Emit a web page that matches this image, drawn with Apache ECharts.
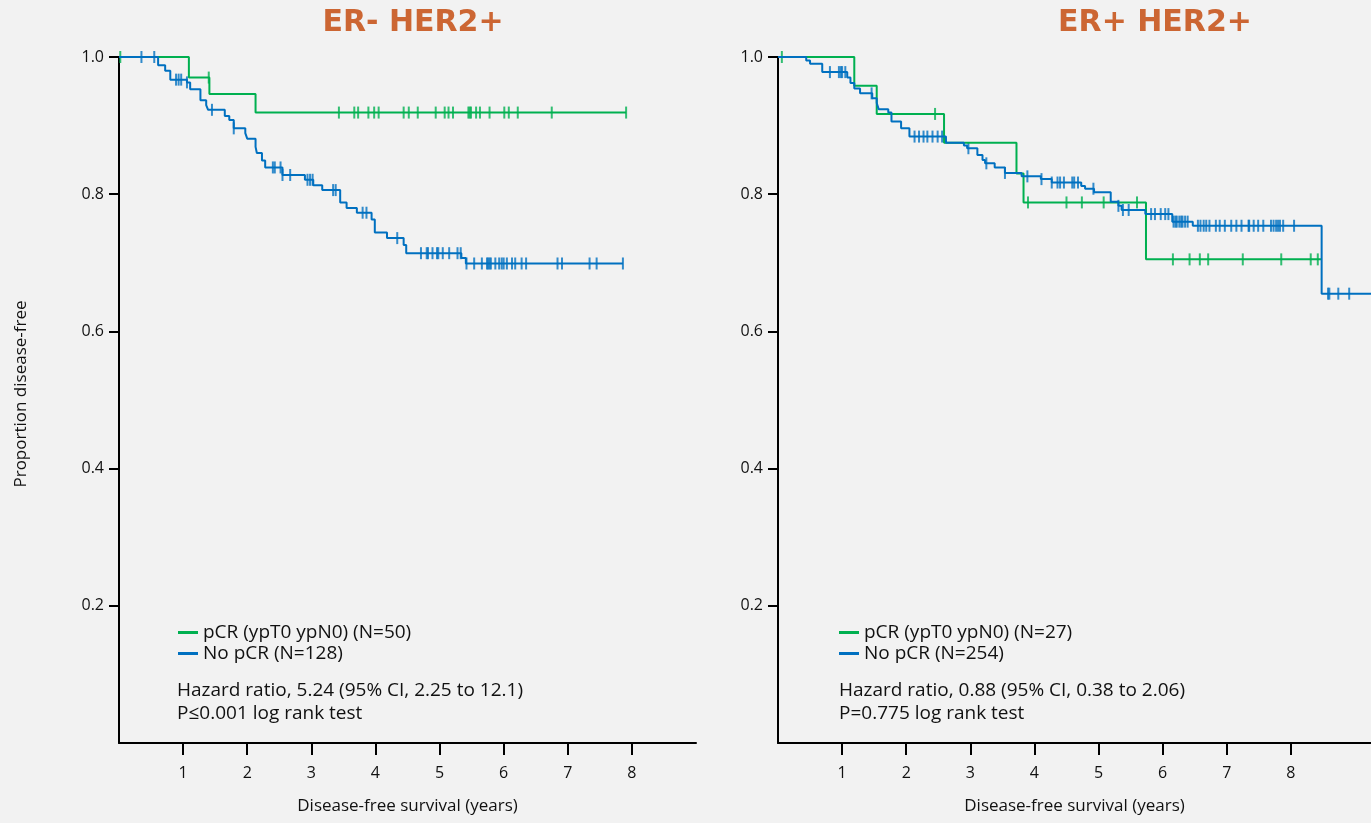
<!DOCTYPE html>
<html>
<head>
<meta charset="utf-8">
<title>Disease-free survival by pCR status</title>
<script src="https://cdn.jsdelivr.net/npm/echarts@6/dist/echarts.min.js"></script>
<style>
  html, body { margin: 0; padding: 0; background: #f2f2f2; }
  #chart { width: 1371px; height: 823px; }
</style>
</head>
<body>
<div id="chart"></div>
<script>
// ---- Kaplan-Meier data (years, proportion disease-free) ----
// ER- HER2+, pCR (ypT0 ypN0), N=50
const erNegPcrTime = [0, 1.09, 1.41, 2.13, 7.91];
const erNegPcrSurv = [1.0, 0.970, 0.946, 0.919, 0.919];
const erNegPcrCensor = [0.02, 1.40, 3.43, 3.67, 3.73, 3.89, 3.98, 4.05, 4.44, 4.52, 4.66, 4.94, 5.08, 5.14,
  5.21, 5.45, 5.47, 5.49, 5.57, 5.63, 5.78, 6.01, 6.08, 6.22, 6.75, 7.91];

// ER- HER2+, No pCR, N=128
const erNegNoPcrTime = [0, 0.61, 0.72, 0.80, 1.06, 1.11, 1.27, 1.36, 1.39, 1.65, 1.72, 1.79, 1.97, 2.00, 2.13,
  2.15, 2.23, 2.28, 2.55, 2.90, 3.03, 3.17, 3.45, 3.55, 3.71, 3.94, 3.99, 4.18, 4.44, 4.48, 5.34, 5.41, 7.86];
const erNegNoPcrSurv = [1.0, 0.988, 0.980, 0.967, 0.963, 0.953, 0.937, 0.930, 0.923, 0.914, 0.908, 0.896, 0.889,
  0.881, 0.869, 0.860, 0.849, 0.839, 0.828, 0.821, 0.813, 0.806, 0.788, 0.780, 0.773, 0.763, 0.744, 0.736,
  0.726, 0.714, 0.707, 0.699, 0.699];
const erNegNoPcrCensor = [0.35, 0.55, 0.89, 0.93, 0.97, 1.06, 1.45, 1.79, 2.40, 2.43, 2.52, 2.55, 2.67, 2.94,
  2.98, 3.02, 3.34, 3.38, 3.80, 3.86, 4.34, 4.71, 4.80, 4.82, 4.89, 4.96, 4.98, 5.05, 5.15, 5.28, 5.33, 5.42,
  5.54, 5.66, 5.74, 5.76, 5.78, 5.80, 5.87, 5.93, 5.97, 6.00, 6.05, 6.13, 6.18, 6.28, 6.35, 6.84, 6.91, 7.34,
  7.45, 7.86];

// ER+ HER2+, pCR (ypT0 ypN0), N=27
const erPosPcrTime = [0, 1.19, 1.54, 2.59, 3.72, 3.83, 5.74, 8.47];
const erPosPcrSurv = [1.0, 0.958, 0.917, 0.875, 0.830, 0.788, 0.705, 0.705];
const erPosPcrCensor = [0.06, 2.45, 3.90, 4.50, 4.74, 5.08, 5.60, 6.16, 6.42, 6.58, 6.71, 7.25, 7.85, 8.31, 8.42];

// ER+ HER2+, No pCR, N=254
const erPosNoPcrTime = [0, 0.44, 0.50, 0.69, 1.08, 1.13, 1.19, 1.28, 1.47, 1.54, 1.57, 1.72, 1.77, 1.92, 2.05,
  2.62, 2.90, 2.95, 3.11, 3.19, 3.23, 3.38, 3.54, 3.80, 4.10, 4.27, 4.73, 4.79, 4.93, 5.19, 5.31, 5.36, 5.73,
  6.15, 6.47, 8.48, 9.30];
const erPosNoPcrSurv = [1.0, 0.995, 0.990, 0.978, 0.970, 0.962, 0.954, 0.947, 0.940, 0.933, 0.924, 0.919, 0.906,
  0.896, 0.884, 0.875, 0.871, 0.867, 0.857, 0.850, 0.845, 0.839, 0.831, 0.826, 0.822, 0.817, 0.812, 0.808,
  0.803, 0.789, 0.783, 0.777, 0.771, 0.760, 0.754, 0.655, 0.655];
const erPosNoPcrCensor = [0.81, 0.95, 0.98, 1.00, 1.05, 1.46, 2.13, 2.20, 2.27, 2.33, 2.41, 2.49, 2.56, 2.97,
  3.25, 3.54, 3.89, 4.11, 4.27, 4.36, 4.40, 4.46, 4.59, 4.62, 4.68, 4.92, 5.31, 5.38, 5.47, 5.82, 5.88, 5.97,
  6.04, 6.09, 6.17, 6.20, 6.22, 6.26, 6.29, 6.31, 6.35, 6.39, 6.55, 6.59, 6.64, 6.68, 6.73, 6.83, 6.89, 6.97,
  7.07, 7.15, 7.23, 7.34, 7.35, 7.42, 7.49, 7.57, 7.69, 7.73, 7.77, 7.80, 7.83, 7.88, 8.05, 8.58, 8.60, 8.74,
  8.91];

const xTicks = [1, 2, 3, 4, 5, 6, 7, 8];
const yTicks = [0.2, 0.4, 0.6, 0.8, 1.0];
const panelTitles = ['ER- HER2+', 'ER+ HER2+'];
const legendPcr = ['pCR (ypT0 ypN0) (N=50)', 'pCR (ypT0 ypN0) (N=27)'];
const legendNoPcr = ['No pCR (N=128)', 'No pCR (N=254)'];
const hazardText = ['Hazard ratio, 5.24 (95% CI, 2.25 to 12.1)', 'Hazard ratio, 0.88 (95% CI, 0.38 to 2.06)'];
const pText = ['P\u22640.001 log rank test', 'P=0.775 log rank test'];

// ---- helpers ----
const GREEN = '#00b050';
const BLUE = '#0070c0';
const FONT = '"Open Sans", Lato, sans-serif';
const TITLE_FONT = 'bold 30px "DejaVu Sans", sans-serif';

function pairs(ts, ss) { return ts.map((t, i) => [t, ss[i]]); }
function survAt(ts, ss, t) {
  let v = ss[0];
  for (let i = 0; i < ts.length; i++) { if (ts[i] <= t) v = ss[i]; }
  return v;
}
function censorPoints(ts, ss, cs) { return cs.map(c => [c, survAt(ts, ss, c)]); }

function curve(name, idx, ts, ss, color) {
  return {
    name, type: 'line', step: 'end', xAxisIndex: idx, yAxisIndex: idx,
    data: pairs(ts, ss), symbol: 'none', color,
    lineStyle: { color, width: 2 }, silent: true, animation: false
  };
}
function censors(name, idx, ts, ss, cs, color) {
  return {
    name, type: 'scatter', xAxisIndex: idx, yAxisIndex: idx,
    data: censorPoints(ts, ss, cs), symbol: 'rect', symbolSize: [2, 12],
    itemStyle: { color }, silent: true, animation: false
  };
}

const axisText = { color: '#111', fontSize: 16, fontFamily: FONT };
function xAxis(idx, max) {
  return {
    type: 'value', gridIndex: idx, min: 0, max: max,
    name: 'Disease-free survival (years)', nameLocation: 'middle', nameGap: 55,
    nameTextStyle: { color: '#111', fontSize: 17, fontFamily: FONT },
    axisLine: { lineStyle: { color: '#000', width: 2 } },
    axisTick: { show: true, length: 12, lineStyle: { color: '#000', width: 2 }, customValues: xTicks },
    axisLabel: Object.assign({ margin: 22, customValues: xTicks, formatter: v => String(v) }, axisText),
    splitLine: { show: false }
  };
}
function yAxis(idx, withName) {
  return {
    type: 'value', gridIndex: idx, min: 0, max: 1,
    name: withName ? 'Proportion disease-free' : '', nameLocation: 'middle', nameGap: 89,
    nameTextStyle: { color: '#111', fontSize: 17, fontFamily: FONT, padding: [0, 0, 0, 12] },
    axisLine: { show: true, lineStyle: { color: '#000', width: 2 } },
    axisTick: { show: true, length: 10, lineStyle: { color: '#000', width: 2 }, customValues: yTicks },
    axisLabel: Object.assign({ margin: 15, customValues: yTicks, formatter: v => v.toFixed(1) }, axisText),
    splitLine: { show: false }
  };
}

function textEl(text, x, y, font, fill, align) {
  return { type: 'text', x, y, silent: true,
    style: { text, font, fill, align: align || 'left', verticalAlign: 'middle' } };
}

const legendText = { color: '#111', fontSize: 19, fontFamily: FONT };

const chart = echarts.init(document.getElementById('chart'), null, { renderer: 'canvas' });
chart.setOption({
  backgroundColor: '#f2f2f2',
  animation: false,
  grid: [
    { left: 119, top: 57, width: 577, height: 686 },
    { left: 778, top: 57, width: 593, height: 686 }
  ],
  xAxis: [xAxis(0, 9), xAxis(1, 9.25)],
  yAxis: [yAxis(0, true), yAxis(1, false)],
  legend: [
    { data: [legendPcr[0], legendNoPcr[0]], orient: 'vertical', left: 173, top: 618, itemGap: 2,
      icon: 'rect', itemWidth: 20, itemHeight: 3, selectedMode: false, textStyle: legendText },
    { data: [legendPcr[1], legendNoPcr[1]], orient: 'vertical', left: 834, top: 618, itemGap: 2,
      icon: 'rect', itemWidth: 20, itemHeight: 3, selectedMode: false, textStyle: legendText }
  ],
  graphic: [
    textEl(panelTitles[0], 413, 23, TITLE_FONT, '#cc6633', 'center'),
    textEl(panelTitles[1], 1155, 23, TITLE_FONT, '#cc6633', 'center'),
    textEl(hazardText[0], 177, 691, '19px ' + FONT, '#111'),
    textEl(pText[0], 177, 714, '19px ' + FONT, '#111'),
    textEl(hazardText[1], 839, 691, '19px ' + FONT, '#111'),
    textEl(pText[1], 839, 714, '19px ' + FONT, '#111')
  ],
  series: [
    curve(legendPcr[0], 0, erNegPcrTime, erNegPcrSurv, GREEN),
    censors('erNegPcrCensor', 0, erNegPcrTime, erNegPcrSurv, erNegPcrCensor, GREEN),
    curve(legendNoPcr[0], 0, erNegNoPcrTime, erNegNoPcrSurv, BLUE),
    censors('erNegNoPcrCensor', 0, erNegNoPcrTime, erNegNoPcrSurv, erNegNoPcrCensor, BLUE),
    curve(legendPcr[1], 1, erPosPcrTime, erPosPcrSurv, GREEN),
    censors('erPosPcrCensor', 1, erPosPcrTime, erPosPcrSurv, erPosPcrCensor, GREEN),
    curve(legendNoPcr[1], 1, erPosNoPcrTime, erPosNoPcrSurv, BLUE),
    censors('erPosNoPcrCensor', 1, erPosNoPcrTime, erPosNoPcrSurv, erPosNoPcrCensor, BLUE)
  ]
});
</script>
</body>
</html>
